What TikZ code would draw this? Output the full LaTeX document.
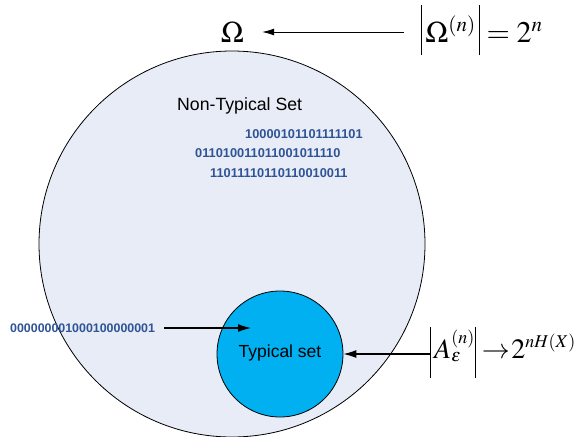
\documentclass[tikz,border=0pt]{standalone}
\usepackage{mathptmx}
\usepackage{fontspec}
\setmainfont{Liberation Sans}
\usetikzlibrary{arrows.meta}
\DeclareMathSizes{30}{30}{21}{15}
\DeclareMathSizes{28}{28}{18}{13}
\definecolor{bigfill}{RGB}{231,236,246}
\definecolor{smallfill}{RGB}{0,176,240}
\definecolor{bincol}{RGB}{47,84,150}
\newcommand{\barA}{\rule[-13pt]{0.9pt}{50pt}}
\newcommand{\barB}{\rule[-20pt]{0.9pt}{51pt}}
\tikzset{
  bin/.style={font=\fontsize{12.8}{14}\selectfont\bfseries, text=bincol, inner sep=0pt},
  lbl/.style={inner sep=0pt},
  mtop/.style={inner sep=0pt, font=\fontsize{30}{32}\selectfont},
  mbot/.style={inner sep=0pt, font=\fontsize{28}{30}\selectfont},
  arr/.style={-{Latex[length=13pt,width=8pt]}, line width=1.1pt},
  arrthin/.style={-{Latex[length=12pt,width=7pt]}, line width=0.8pt},
}
\begin{document}
\begin{tikzpicture}[x=1pt,y=-1pt]
\useasboundingbox (0,0) rectangle (582,437);
\clip (0,0) rectangle (582,437);
\node[circle, draw, line width=0.8pt, fill=bigfill, minimum size=386pt, inner sep=0pt] (big) at (232,244) {};
\node[circle, draw, line width=0.8pt, fill=smallfill, minimum size=126pt, inner sep=0pt] (small) at (280,354) {};
\node[lbl, font=\fontsize{17.7}{20}\selectfont, anchor=west] (nts) at (177,106) {Non-Typical Set};
\node[bin, anchor=west] (b1) at (245,134) {10000101101111101};
\node[bin, anchor=west] (b2) at (195,153) {011010011011001011110};
\node[bin, anchor=west] (b3) at (210,173) {11011110110110010011};
\node[bin, font=\fontsize{12.4}{14}\selectfont\bfseries, anchor=west] (b4) at (10,328) {000000001000100000001};
\coordinate (t4) at (251,328);
\node[lbl, font=\fontsize{17.5}{20}\selectfont] (ts) at (280,353) {Typical set};
\node[mtop, anchor=base] (om) at (232.5,42) {$\Omega$};
\node[mtop, anchor=base west] (omn) at (421,42) {$\barA\,\Omega^{(n)}\,\barA = 2^{n}$};
\coordinate (oms) at (404,32);
\node[mbot, anchor=base west] (an) at (430,358) {$\barB\,A_{\varepsilon}^{(n)}\barB\mkern4mu{\rightarrow}\mkern1mu2^{nH(X)}$};
\draw[arrthin, shorten >=18pt] (oms) -- (om.east |- oms);
\draw[arr] (b4.east) ++(9,0) -- (t4);
\draw[arr] (an.west |- small.east) -- (small.east);
\end{tikzpicture}
\end{document}
